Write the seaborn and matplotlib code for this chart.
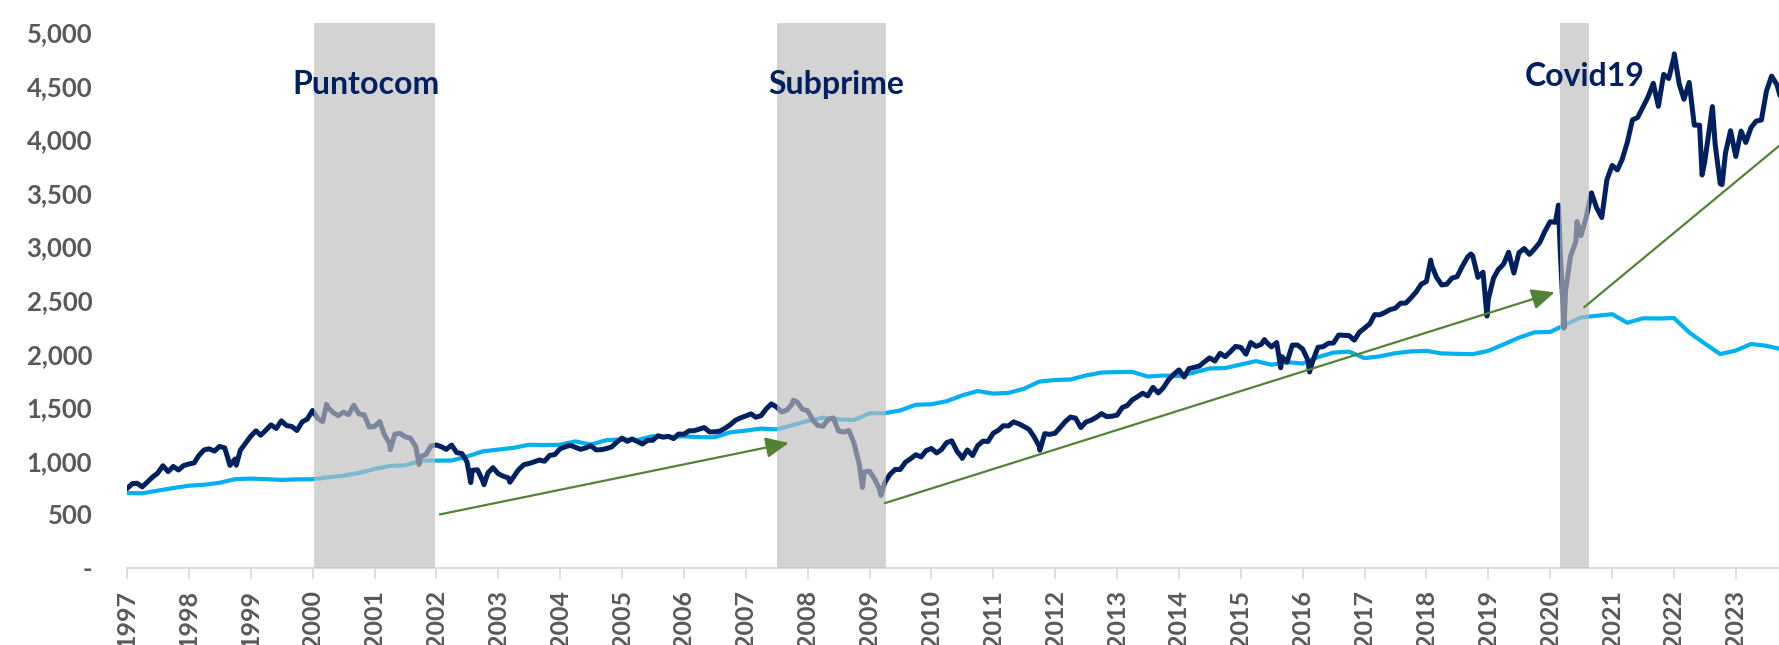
import numpy as np
import pandas as pd
import matplotlib
matplotlib.use("Agg")
import matplotlib.pyplot as plt
import matplotlib.dates as mdates
from matplotlib.ticker import FuncFormatter, MultipleLocator
import seaborn as sns

# ---------------- data ----------------
# S&P 500 level at the start of each month (previous month-end close), from Jan-1997
sp_first_month = "1997-01-01"
sp_values = [
    740.74, 786.16, 790.82, 757.12, 801.34, 848.28, 885.14, 954.29, 899.47, 947.28, 914.62, 955.40,
    970.43, 980.28, 1049.34, 1101.75, 1111.75, 1090.82, 1133.84, 1120.67, 957.28, 1017.01, 1098.67, 1163.63,
    1229.23, 1279.64, 1238.33, 1286.37, 1335.18, 1301.84, 1372.71, 1328.72, 1320.41, 1282.71, 1362.93, 1388.91,
    1469.25, 1394.46, 1366.42, 1498.58, 1452.43, 1420.60, 1454.60, 1430.83, 1517.68, 1436.51, 1429.40, 1314.95,
    1320.28, 1366.01, 1239.94, 1160.33, 1249.46, 1255.82, 1224.42, 1211.23, 1133.58, 1040.94, 1059.78, 1139.45,
    1148.08, 1130.20, 1106.73, 1147.39, 1076.92, 1067.14, 989.82, 911.62, 916.07, 815.28, 885.76, 936.31,
    879.82, 855.70, 841.15, 848.18, 916.92, 963.59, 974.50, 990.31, 1008.01, 995.97, 1050.71, 1058.20,
    1111.92, 1131.13, 1144.94, 1126.21, 1107.30, 1120.68, 1140.84, 1101.72, 1104.24, 1114.58, 1130.20, 1173.82,
    1211.92, 1181.27, 1203.60, 1180.59, 1156.85, 1191.50, 1191.33, 1234.18, 1220.33, 1228.81, 1207.01, 1249.48,
    1248.29, 1280.08, 1280.66, 1294.83, 1310.61, 1270.09, 1270.20, 1276.66, 1303.82, 1335.85, 1377.94, 1400.63,
    1418.30, 1438.24, 1406.82, 1420.86, 1482.37, 1530.62, 1503.35, 1455.27, 1473.99, 1526.75, 1549.38, 1481.14,
    1468.36, 1378.55, 1330.63, 1322.70, 1385.59, 1400.38, 1280.00, 1267.38, 1282.83, 1166.36, 968.75, 896.24,
    903.25, 825.88, 735.09, 797.87, 872.81, 919.14, 919.32, 987.48, 1020.62, 1057.08, 1036.19, 1095.63,
    1115.10, 1073.87, 1104.49, 1169.43, 1186.69, 1089.41, 1030.71, 1101.60, 1049.33, 1141.20, 1183.26, 1180.55,
    1257.64, 1286.12, 1327.22, 1325.83, 1363.61, 1345.20, 1320.64, 1292.28, 1218.89, 1131.42, 1253.30, 1246.96,
    1257.60, 1312.41, 1365.68, 1408.47, 1397.91, 1310.33, 1362.16, 1379.32, 1406.58, 1440.67, 1412.16, 1416.18,
    1426.19, 1498.11, 1514.68, 1569.19, 1597.57, 1630.74, 1606.28, 1685.73, 1632.97, 1681.55, 1756.54, 1805.81,
    1848.36, 1782.59, 1859.45, 1872.34, 1883.95, 1923.57, 1960.23, 1930.67, 2003.37, 1972.29, 2018.05, 2067.56,
    2058.90, 1994.99, 2104.50, 2067.89, 2085.51, 2107.39, 2063.11, 2103.84, 1972.18, 1920.03, 2079.36, 2080.41,
    2043.94, 1940.24, 1932.23, 2059.74, 2065.30, 2096.95, 2098.86, 2173.60, 2170.95, 2168.27, 2126.15, 2198.81,
    2238.83, 2278.87, 2363.64, 2362.72, 2384.20, 2411.80, 2423.41, 2470.30, 2471.65, 2519.36, 2575.26, 2647.58,
    2673.61, 2823.81, 2713.83, 2640.87, 2648.05, 2705.27, 2718.37, 2816.29, 2901.52, 2913.98, 2711.74, 2760.17,
    2506.85, 2704.10, 2784.49, 2834.40, 2945.83, 2752.06, 2941.76, 2980.38, 2926.46, 2976.74, 3037.56, 3140.98,
    3230.78, 3225.52, 2954.22, 2584.59, 2912.43, 3044.31, 3100.29, 3271.12, 3500.31, 3363.00, 3269.96, 3621.63,
    3756.07, 3714.24, 3811.15, 3972.89, 4181.17, 4204.11, 4297.50, 4395.26, 4522.68, 4307.54, 4605.38, 4567.00,
    4766.18, 4515.55, 4373.94, 4530.41, 4131.93, 4132.15, 3785.38, 4130.29, 3955.00, 3585.62, 3871.98, 4080.11,
    3839.50, 4076.60, 3970.15, 4109.31, 4169.48, 4179.83, 4450.38, 4588.96, 4507.66,
]
# intra-month highs / lows visible in the daily series
sp_extra_dates = [
    "1998-10-08", "2000-03-24", "2000-09-01", "2001-04-04", "2001-09-21", "2002-07-23",
    "2002-10-09", "2003-03-11", "2007-10-09", "2008-11-20", "2009-03-09", "2010-07-02",
    "2011-10-03", "2015-05-21", "2015-08-25", "2016-02-11", "2018-01-26", "2018-09-20",
    "2018-12-24", "2020-02-19", "2020-03-23", "2020-06-08", "2022-01-03", "2022-06-16",
    "2022-08-16", "2022-10-12", "2023-07-31", "2023-09-20",
]
sp_extra_values = [
    959, 1527, 1520, 1103, 966, 797,
    777, 800, 1565, 752, 677, 1023,
    1099, 2131, 1868, 1829, 2873, 2930,
    2351, 3386, 2237, 3232, 4797, 3667,
    4305, 3577, 4589, 4402,
]

# Bond index (rebased), start of each quarter from Jan-1997
bond_first_quarter = "1997-01-01"
bond_values = [
    700, 697, 722, 746, 768, 777, 795, 829, 834, 829, 822, 827,
    828, 846, 861, 887, 924, 952, 958, 1002, 1002, 1003, 1040, 1088,
    1105, 1121, 1150, 1147, 1150, 1181, 1152, 1193, 1200, 1194, 1230, 1222,
    1229, 1221, 1220, 1266, 1282, 1301, 1294, 1331, 1372, 1402, 1387, 1381,
    1443, 1445, 1470, 1523, 1528, 1556, 1610, 1651, 1627, 1634, 1672, 1740,
    1754, 1759, 1796, 1824, 1828, 1830, 1786, 1796, 1791, 1824, 1862, 1865,
    1899, 1930, 1897, 1920, 1908, 1967, 2010, 2019, 1958, 1975, 2004, 2021,
    2026, 2002, 1998, 1995, 2026, 2086, 2149, 2199, 2202, 2271, 2338, 2353,
    2368, 2288, 2330, 2328, 2332, 2198, 2095, 1996, 2029, 2090, 2073, 2040,
]

# crisis periods
crisis_names = ["Puntocom", "Subprime", "Covid19"]
crisis_starts = ["2000-01-10", "2007-07-03", "2020-03-02"]
crisis_ends = ["2001-12-25", "2009-04-07", "2020-08-17"]
crisis_label_dates = ["2000-11-10", "2008-06-20", "2020-07-25"]
crisis_label_values = [4510, 4510, 4585]

# green trend arrows
arrow_start_dates = ["2002-01-22", "2009-04-01", "2020-07-20"]
arrow_start_values = [500, 605, 2433]
arrow_end_dates = ["2007-09-12", "2020-01-28", "2023-09-30"]
arrow_end_values = [1167, 2573, 3960]
arrow_has_head = [True, True, False]

# ---------------- frames ----------------
sp_dates = pd.date_range(sp_first_month, periods=len(sp_values), freq="MS")
sp = pd.DataFrame({"date": list(sp_dates) + list(pd.to_datetime(sp_extra_dates)),
                   "value": list(sp_values) + list(sp_extra_values)}).sort_values("date")
bond = pd.DataFrame({"date": pd.date_range(bond_first_quarter, periods=len(bond_values), freq="3MS"),
                     "value": bond_values})

# ---------------- style ----------------
sns.set_theme(style="white")
plt.rcParams["font.family"] = ["Lato", "DejaVu Sans"]

NAVY = "#002060"
LBLUE = "#00B0F0"
GREEN = "#548235"
TICK = "#595959"
AXIS = "#D9D9D9"

fig = plt.figure(figsize=(17.79, 6.45), dpi=100)
ax = fig.add_axes([127 / 1779, 77 / 645, 1 - 127 / 1779, (568 - 23) / 645])

sns.lineplot(data=bond, x="date", y="value", ax=ax, color=LBLUE, lw=3.0, zorder=2)
sns.lineplot(data=sp, x="date", y="value", ax=ax, color=NAVY, lw=3.6, zorder=3)

for s, e in zip(crisis_starts, crisis_ends):
    ax.axvspan(pd.Timestamp(s), pd.Timestamp(e), ymin=0, ymax=1,
               color="#BDBDBD", alpha=0.66, lw=0, zorder=4)

for name, d, v in zip(crisis_names, crisis_label_dates, crisis_label_values):
    ax.text(pd.Timestamp(d), v, name, ha="center", va="center", fontsize=23,
            fontweight="bold", color=NAVY, zorder=6)

for sd, sv, ed, ev, head in zip(arrow_start_dates, arrow_start_values,
                                arrow_end_dates, arrow_end_values, arrow_has_head):
    style = "-|>,head_length=1.0,head_width=0.45" if head else "-"
    ax.annotate("", xy=(mdates.date2num(pd.Timestamp(ed)), ev),
                xytext=(mdates.date2num(pd.Timestamp(sd)), sv),
                arrowprops=dict(arrowstyle=style, mutation_scale=14, lw=1.6,
                                color=GREEN, shrinkA=0, shrinkB=0),
                zorder=5, annotation_clip=False)

ax.set_xlim(pd.Timestamp("1997-01-01"), pd.Timestamp("2023-09-13"))
ax.set_ylim(0, 5085)
ax.yaxis.set_major_locator(MultipleLocator(500))
ax.yaxis.set_major_formatter(FuncFormatter(lambda v, p: "-" if v == 0 else f"{int(v):,}"))
ax.xaxis.set_major_locator(mdates.YearLocator())
ax.xaxis.set_major_formatter(mdates.DateFormatter("%Y"))
ax.set_xlabel("")
ax.set_ylabel("")

for sp_name in ["left", "top", "right"]:
    ax.spines[sp_name].set_visible(False)
ax.spines["bottom"].set_color(AXIS)
ax.spines["bottom"].set_linewidth(1.3)

ax.tick_params(axis="y", length=0, pad=25, labelsize=18.5, labelcolor=TICK)
ax.tick_params(axis="x", length=8, width=1.2, color=AXIS, pad=8, labelsize=18,
               labelcolor=TICK, labelrotation=90, bottom=True)
for lab in ax.get_xticklabels() + ax.get_yticklabels():
    lab.set_fontweight("bold")

ax.grid(False)
fig.savefig("out.png", dpi=100)
